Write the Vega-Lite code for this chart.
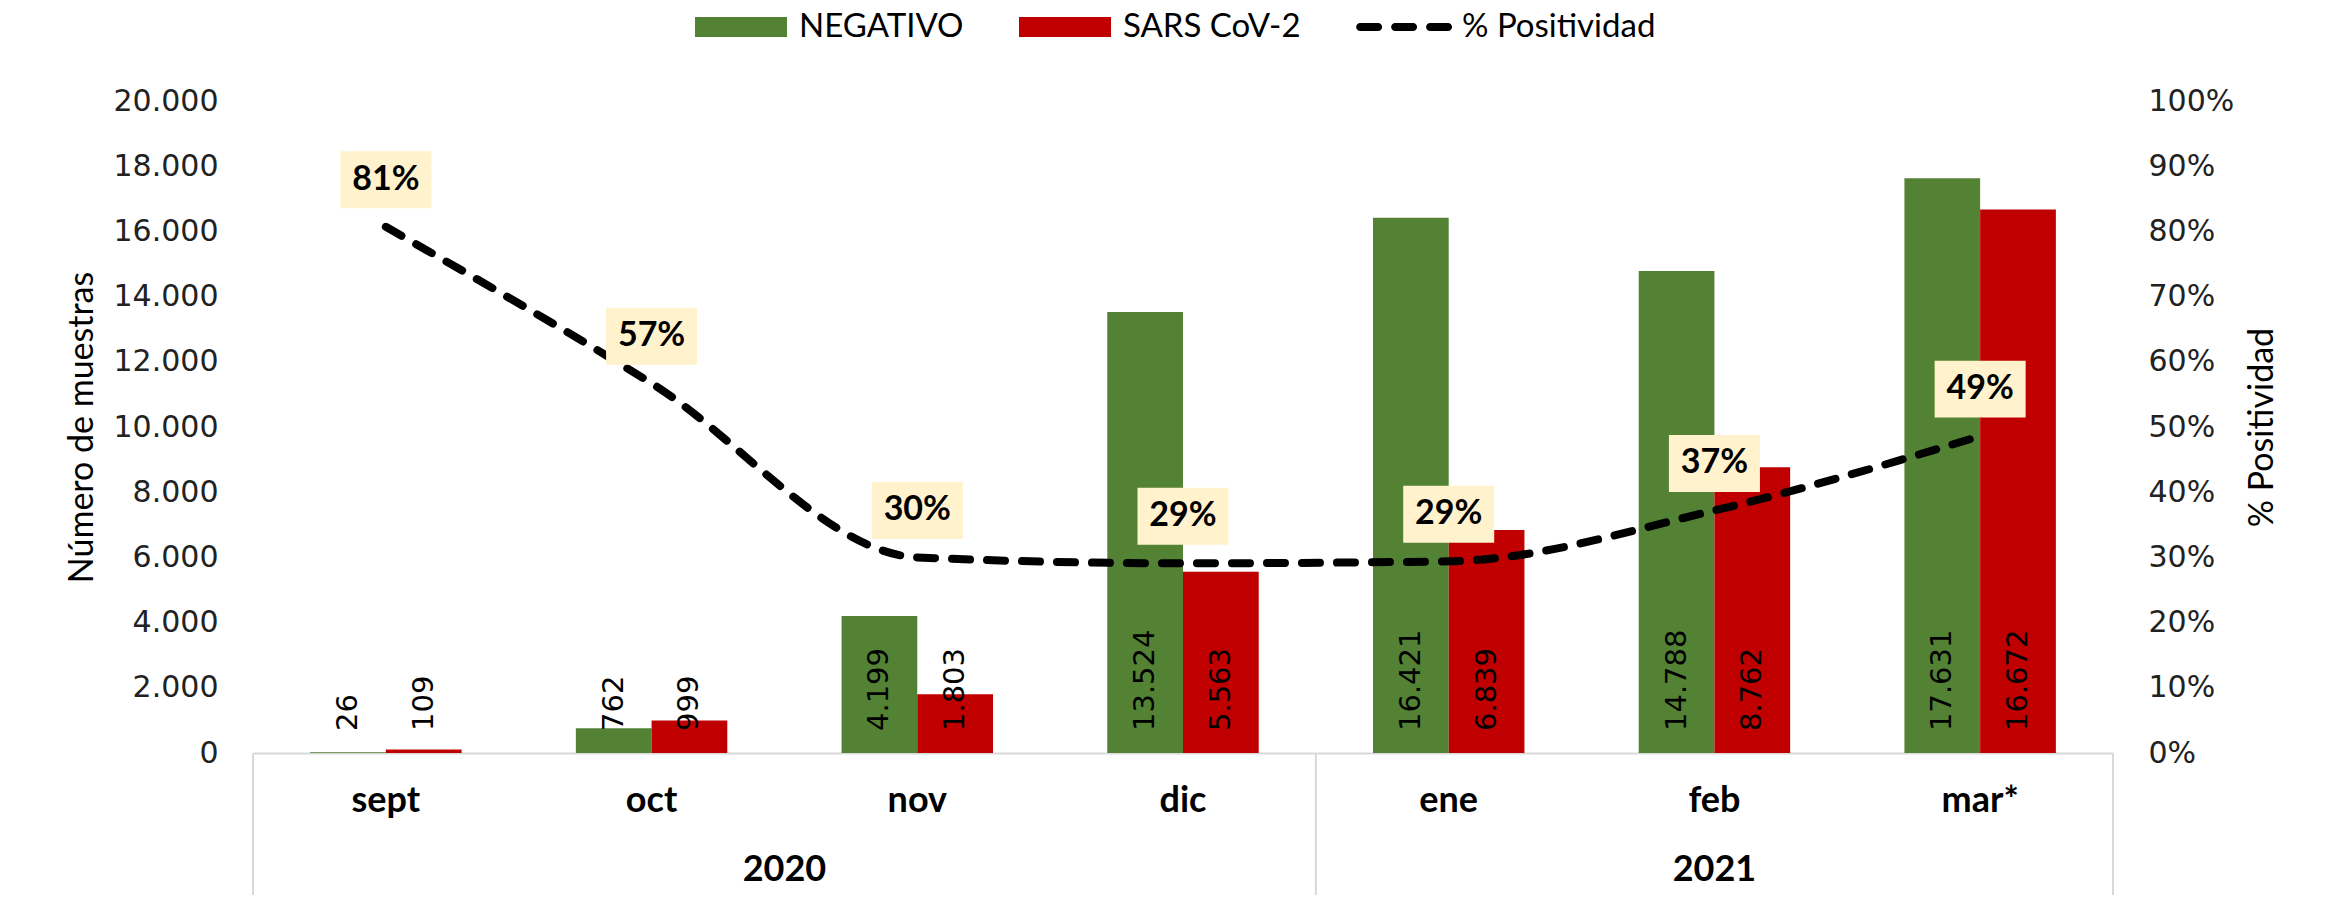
{
  "$schema": "https://vega.github.io/schema/vega-lite/v6.json",
  "width": 1860,
  "height": 652,
  "autosize": {"type": "none"},
  "padding": {"left": 253, "top": 101, "right": 212, "bottom": 155},
  "background": "white",
  "config": {
    "view": {"stroke": null},
    "locale": {"number": {"decimal": ",", "thousands": ".", "grouping": [3], "currency": ["", " €"]}},
    "axis": {"grid": false, "ticks": false, "tickSize": 0}
  },
  "datasets": {
    "bars": [
      {"mes": "sept", "serie": "NEGATIVO", "n": 26},
      {"mes": "sept", "serie": "SARS CoV-2", "n": 109},
      {"mes": "oct", "serie": "NEGATIVO", "n": 762},
      {"mes": "oct", "serie": "SARS CoV-2", "n": 999},
      {"mes": "nov", "serie": "NEGATIVO", "n": 4199},
      {"mes": "nov", "serie": "SARS CoV-2", "n": 1803},
      {"mes": "dic", "serie": "NEGATIVO", "n": 13524},
      {"mes": "dic", "serie": "SARS CoV-2", "n": 5563},
      {"mes": "ene", "serie": "NEGATIVO", "n": 16421},
      {"mes": "ene", "serie": "SARS CoV-2", "n": 6839},
      {"mes": "feb", "serie": "NEGATIVO", "n": 14788},
      {"mes": "feb", "serie": "SARS CoV-2", "n": 8762},
      {"mes": "mar*", "serie": "NEGATIVO", "n": 17631},
      {"mes": "mar*", "serie": "SARS CoV-2", "n": 16672}
    ],
    "pos": [
      {"mes": "sept", "pct": 0.807},
      {"mes": "oct", "pct": 0.567},
      {"mes": "nov", "pct": 0.300},
      {"mes": "dic", "pct": 0.291},
      {"mes": "ene", "pct": 0.294},
      {"mes": "feb", "pct": 0.372},
      {"mes": "mar*", "pct": 0.486}
    ],
    "edgesLeft": [{"mes": "sept"}, {"mes": "ene"}],
    "edgesRight": [{"mes": "mar*"}],
    "y2020": [{"mes": "nov", "anio": "2020"}],
    "y2021": [{"mes": "feb", "anio": "2021"}]
  },
  "layer": [
    {
      "layer": [
        {
          "data": {"name": "bars"},
          "mark": {"type": "bar"},
          "encoding": {
            "x": {"field": "mes", "type": "nominal", "sort": null,
              "scale": {"domain": ["sept", "oct", "nov", "dic", "ene", "feb", "mar*"], "paddingInner": 0.43, "paddingOuter": 0.215},
              "axis": {"title": null, "labelAngle": 0, "labelFont": "Lato", "labelFontWeight": "bold", "labelFontSize": 36, "labelColor": "#000", "labelPadding": 30, "domainColor": "#D9D9D9", "domainWidth": 2, "ticks": false}},
            "xOffset": {"field": "serie", "type": "nominal", "scale": {"domain": ["NEGATIVO", "SARS CoV-2"], "paddingInner": 0, "paddingOuter": 0}},
            "y": {"field": "n", "type": "quantitative",
              "scale": {"domain": [0, 20000], "nice": false},
              "axis": {"title": "Número de muestras", "values": [0, 2000, 4000, 6000, 8000, 10000, 12000, 14000, 16000, 18000, 20000], "format": ",d", "labelFont": "DejaVu Sans", "labelFontSize": 30, "labelColor": "#222", "labelPadding": 35, "domain": false, "titleFont": "Lato", "titleFontSize": 34, "titleFontWeight": "normal", "titleColor": "#000", "titlePadding": 14}},
            "color": {"field": "serie", "type": "nominal",
              "scale": {"domain": ["NEGATIVO", "SARS CoV-2", "% Positividad"], "range": ["#548235", "#C00000", "#000000"]},
              "legend": {"orient": "none", "legendX": 442, "legendY": -120, "direction": "horizontal", "title": null,
                "symbolType": "M-1,-0.22H1V0.22H-1Z", "symbolSize": 8464, "symbolStrokeWidth": 0, "symbolOpacity": 1,
                "labelFont": "Lato", "labelFontSize": 33, "labelColor": "#000", "labelOffset": 12, "columnPadding": 55, "labelLimit": 500, "padding": 0,
                "encode": {"symbols": {"update": {"shape": {"signal": "datum.value === '% Positividad' ? 'M-0.953,-0.087H-0.562A0.087,0.087,0,0,1,-0.562,0.087H-0.953A0.087,0.087,0,0,1,-0.953,-0.087Z M-0.193,-0.087H0.198A0.087,0.087,0,0,1,0.198,0.087H-0.193A0.087,0.087,0,0,1,-0.193,-0.087Z M0.567,-0.087H0.958A0.087,0.087,0,0,1,0.958,0.087H0.567A0.087,0.087,0,0,1,0.567,-0.087Z' : 'M-1,-0.22H1V0.22H-1Z'"}}}}}}
          }
        },
        {
          "data": {"name": "bars"},
          "mark": {"type": "text", "angle": 270, "align": "left", "baseline": "middle", "dx": 22, "font": "DejaVu Sans", "fontSize": 29, "color": "#000"},
          "encoding": {
            "x": {"field": "mes", "type": "nominal", "sort": null, "scale": {"domain": ["sept", "oct", "nov", "dic", "ene", "feb", "mar*"], "paddingInner": 0.43, "paddingOuter": 0.215},
              "axis": {"title": null, "labelAngle": 0, "labelFont": "Lato", "labelFontWeight": "bold", "labelFontSize": 36, "labelColor": "#000", "labelPadding": 30, "domainColor": "#D9D9D9", "domainWidth": 2, "ticks": false}},
            "xOffset": {"field": "serie", "type": "nominal", "scale": {"domain": ["NEGATIVO", "SARS CoV-2"], "paddingInner": 0, "paddingOuter": 0}},
            "y": {"datum": 0, "type": "quantitative",
              "axis": {"title": "Número de muestras", "values": [0, 2000, 4000, 6000, 8000, 10000, 12000, 14000, 16000, 18000, 20000], "format": ",d", "labelFont": "DejaVu Sans", "labelFontSize": 30, "labelColor": "#222", "labelPadding": 35, "domain": false, "titleFont": "Lato", "titleFontSize": 34, "titleFontWeight": "normal", "titleColor": "#000", "titlePadding": 14}},
            "text": {"field": "n", "type": "quantitative", "format": ",d"}
          }
        },
        {
          "data": {"name": "edgesLeft"},
          "mark": {"type": "rule", "color": "#D9D9D9", "strokeWidth": 2},
          "encoding": {
            "x": {"field": "mes", "type": "nominal", "sort": null, "bandPosition": -0.377, "scale": {"domain": ["sept", "oct", "nov", "dic", "ene", "feb", "mar*"], "paddingInner": 0.43, "paddingOuter": 0.215},
              "axis": {"title": null, "labelAngle": 0, "labelFont": "Lato", "labelFontWeight": "bold", "labelFontSize": 36, "labelColor": "#000", "labelPadding": 30, "domainColor": "#D9D9D9", "domainWidth": 2, "ticks": false}},
            "y": {"datum": 0, "type": "quantitative",
              "axis": {"title": "Número de muestras", "values": [0, 2000, 4000, 6000, 8000, 10000, 12000, 14000, 16000, 18000, 20000], "format": ",d", "labelFont": "DejaVu Sans", "labelFontSize": 30, "labelColor": "#222", "labelPadding": 35, "domain": false, "titleFont": "Lato", "titleFontSize": 34, "titleFontWeight": "normal", "titleColor": "#000", "titlePadding": 14}},
            "y2": {"datum": -4356}
          }
        },
        {
          "data": {"name": "edgesRight"},
          "mark": {"type": "rule", "color": "#D9D9D9", "strokeWidth": 2},
          "encoding": {
            "x": {"field": "mes", "type": "nominal", "sort": null, "bandPosition": 1.377, "scale": {"domain": ["sept", "oct", "nov", "dic", "ene", "feb", "mar*"], "paddingInner": 0.43, "paddingOuter": 0.215},
              "axis": {"title": null, "labelAngle": 0, "labelFont": "Lato", "labelFontWeight": "bold", "labelFontSize": 36, "labelColor": "#000", "labelPadding": 30, "domainColor": "#D9D9D9", "domainWidth": 2, "ticks": false}},
            "y": {"datum": 0, "type": "quantitative",
              "axis": {"title": "Número de muestras", "values": [0, 2000, 4000, 6000, 8000, 10000, 12000, 14000, 16000, 18000, 20000], "format": ",d", "labelFont": "DejaVu Sans", "labelFontSize": 30, "labelColor": "#222", "labelPadding": 35, "domain": false, "titleFont": "Lato", "titleFontSize": 34, "titleFontWeight": "normal", "titleColor": "#000", "titlePadding": 14}},
            "y2": {"datum": -4356}
          }
        },
        {
          "data": {"name": "y2020"},
          "mark": {"type": "text", "font": "Lato", "fontWeight": "bold", "fontSize": 36, "color": "#000", "baseline": "middle", "dy": 117},
          "encoding": {
            "x": {"field": "mes", "type": "nominal", "sort": null, "bandPosition": -0.377, "scale": {"domain": ["sept", "oct", "nov", "dic", "ene", "feb", "mar*"], "paddingInner": 0.43, "paddingOuter": 0.215},
              "axis": {"title": null, "labelAngle": 0, "labelFont": "Lato", "labelFontWeight": "bold", "labelFontSize": 36, "labelColor": "#000", "labelPadding": 30, "domainColor": "#D9D9D9", "domainWidth": 2, "ticks": false}},
            "y": {"datum": 0, "type": "quantitative",
              "axis": {"title": "Número de muestras", "values": [0, 2000, 4000, 6000, 8000, 10000, 12000, 14000, 16000, 18000, 20000], "format": ",d", "labelFont": "DejaVu Sans", "labelFontSize": 30, "labelColor": "#222", "labelPadding": 35, "domain": false, "titleFont": "Lato", "titleFontSize": 34, "titleFontWeight": "normal", "titleColor": "#000", "titlePadding": 14}},
            "text": {"field": "anio"}
          }
        },
        {
          "data": {"name": "y2021"},
          "mark": {"type": "text", "font": "Lato", "fontWeight": "bold", "fontSize": 36, "color": "#000", "baseline": "middle", "dy": 117},
          "encoding": {
            "x": {"field": "mes", "type": "nominal", "sort": null, "bandPosition": 0.5, "scale": {"domain": ["sept", "oct", "nov", "dic", "ene", "feb", "mar*"], "paddingInner": 0.43, "paddingOuter": 0.215},
              "axis": {"title": null, "labelAngle": 0, "labelFont": "Lato", "labelFontWeight": "bold", "labelFontSize": 36, "labelColor": "#000", "labelPadding": 30, "domainColor": "#D9D9D9", "domainWidth": 2, "ticks": false}},
            "y": {"datum": 0, "type": "quantitative",
              "axis": {"title": "Número de muestras", "values": [0, 2000, 4000, 6000, 8000, 10000, 12000, 14000, 16000, 18000, 20000], "format": ",d", "labelFont": "DejaVu Sans", "labelFontSize": 30, "labelColor": "#222", "labelPadding": 35, "domain": false, "titleFont": "Lato", "titleFontSize": 34, "titleFontWeight": "normal", "titleColor": "#000", "titlePadding": 14}},
            "text": {"field": "anio"}
          }
        }
      ]
    },
    {
      "layer": [
        {
          "data": {"name": "pos"},
          "mark": {"type": "line", "interpolate": "monotone", "color": "#000", "strokeWidth": 8, "strokeDash": [18, 17], "strokeCap": "round"},
          "encoding": {
            "x": {"field": "mes", "type": "nominal", "sort": null, "scale": {"domain": ["sept", "oct", "nov", "dic", "ene", "feb", "mar*"], "paddingInner": 0.43, "paddingOuter": 0.215},
              "axis": {"title": null, "labelAngle": 0, "labelFont": "Lato", "labelFontWeight": "bold", "labelFontSize": 36, "labelColor": "#000", "labelPadding": 30, "domainColor": "#D9D9D9", "domainWidth": 2, "ticks": false}},
            "y": {"field": "pct", "type": "quantitative",
              "scale": {"domain": [0, 1], "nice": false},
              "axis": {"orient": "right", "title": "% Positividad", "values": [0, 0.1, 0.2, 0.3, 0.4, 0.5, 0.6, 0.7, 0.8, 0.9, 1], "format": ".0%", "labelFont": "DejaVu Sans", "labelFontSize": 30, "labelColor": "#222", "labelPadding": 35, "domain": false, "titleFont": "Lato", "titleFontSize": 34, "titleFontWeight": "normal", "titleColor": "#000", "titleAngle": 270, "titlePadding": 46}}
          }
        },
        {
          "data": {"name": "pos"},
          "mark": {"type": "point", "shape": "M-1,-0.626H1V0.626H-1Z", "size": 8281, "filled": true, "color": "#FFF2CC", "opacity": 1, "yOffset": -47},
          "encoding": {
            "x": {"field": "mes", "type": "nominal", "sort": null, "scale": {"domain": ["sept", "oct", "nov", "dic", "ene", "feb", "mar*"], "paddingInner": 0.43, "paddingOuter": 0.215},
              "axis": {"title": null, "labelAngle": 0, "labelFont": "Lato", "labelFontWeight": "bold", "labelFontSize": 36, "labelColor": "#000", "labelPadding": 30, "domainColor": "#D9D9D9", "domainWidth": 2, "ticks": false}},
            "y": {"field": "pct", "type": "quantitative",
              "axis": {"orient": "right", "title": "% Positividad", "values": [0, 0.1, 0.2, 0.3, 0.4, 0.5, 0.6, 0.7, 0.8, 0.9, 1], "format": ".0%", "labelFont": "DejaVu Sans", "labelFontSize": 30, "labelColor": "#222", "labelPadding": 35, "domain": false, "titleFont": "Lato", "titleFontSize": 34, "titleFontWeight": "normal", "titleColor": "#000", "titleAngle": 270, "titlePadding": 46}}
          }
        },
        {
          "data": {"name": "pos"},
          "mark": {"type": "text", "font": "Lato", "fontWeight": "bold", "fontSize": 34, "color": "#000", "baseline": "middle", "dy": -47},
          "encoding": {
            "x": {"field": "mes", "type": "nominal", "sort": null, "scale": {"domain": ["sept", "oct", "nov", "dic", "ene", "feb", "mar*"], "paddingInner": 0.43, "paddingOuter": 0.215},
              "axis": {"title": null, "labelAngle": 0, "labelFont": "Lato", "labelFontWeight": "bold", "labelFontSize": 36, "labelColor": "#000", "labelPadding": 30, "domainColor": "#D9D9D9", "domainWidth": 2, "ticks": false}},
            "y": {"field": "pct", "type": "quantitative",
              "axis": {"orient": "right", "title": "% Positividad", "values": [0, 0.1, 0.2, 0.3, 0.4, 0.5, 0.6, 0.7, 0.8, 0.9, 1], "format": ".0%", "labelFont": "DejaVu Sans", "labelFontSize": 30, "labelColor": "#222", "labelPadding": 35, "domain": false, "titleFont": "Lato", "titleFontSize": 34, "titleFontWeight": "normal", "titleColor": "#000", "titleAngle": 270, "titlePadding": 46}},
            "text": {"field": "pct", "type": "quantitative", "format": ".0%"}
          }
        }
      ]
    }
  ],
  "resolve": {"scale": {"y": "independent"}}
}
